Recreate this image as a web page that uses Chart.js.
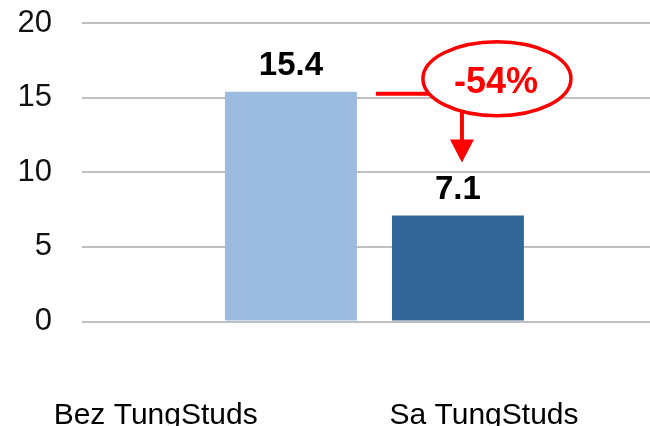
<!DOCTYPE html>
<html>
<head>
<meta charset="utf-8">
<script src="https://cdn.jsdelivr.net/npm/chart.js@4.4.0/dist/chart.umd.min.js"></script>
<style>
  html, body { margin: 0; padding: 0; background: #fff; }
</style>
</head>
<body>
<canvas id="myChart" width="650" height="426"></canvas>
<script>
var categories = ['Bez TungStuds', 'Sa TungStuds'];
var values = [15.4, 7.1];
var barColors = ['#9bbbdf', '#336699'];
var yTicks = [0, 5, 10, 15, 20];
var changeLabel = '-54%';

// where the category names sit on the x scale (they are not under the bars)
var labelPos = [-0.81, 1.156];

var FONT = "'Liberation Sans', Arial, sans-serif";
Chart.defaults.font.family = FONT;

// value labels + the red "-54%" callout
var annotate = {
  id: 'annotate',
  afterDatasetsDraw: function (chart) {
    var c = chart.ctx;
    var bars = chart.getDatasetMeta(0).data;
    var b1 = bars[0], b2 = bars[1];

    c.save();
    c.fillStyle = '#000';
    c.font = 'bold 33px ' + FONT;
    c.textAlign = 'center';
    c.textBaseline = 'alphabetic';
    bars.forEach(function (b, i) {
      c.fillText(values[i].toFixed(1), b.x, b.y - 17);
    });

    var red = '#ff0000';
    var cx = b2.x + 39, cy = b1.y - 13, rx = 74, ry = 37;

    // horizontal line from top of first bar into the ellipse
    var ly = b1.y + 2;
    var dx = rx * Math.sqrt(1 - Math.pow((ly - cy) / ry, 2));
    c.strokeStyle = red;
    c.lineWidth = 4;
    c.beginPath();
    c.moveTo(b1.x + b1.width / 2 + 19, ly);
    c.lineTo(cx - dx + 2, ly);
    c.stroke();

    // ellipse
    c.beginPath();
    c.ellipse(cx, cy, rx, ry, 0, 0, Math.PI * 2);
    c.fillStyle = '#fff';
    c.fill();
    c.lineWidth = 3.5;
    c.stroke();

    c.fillStyle = red;
    c.font = 'bold 36px ' + FONT;
    c.fillText(changeLabel, cx - 1, cy + 14);

    // arrow down to the second bar
    var ax = b2.x + 4;
    var tipY = b2.y - 53;
    var ex = ax - cx;
    var startY = cy + ry * Math.sqrt(1 - Math.pow(ex / rx, 2));
    c.lineWidth = 4;
    c.beginPath();
    c.moveTo(ax, startY);
    c.lineTo(ax, tipY - 22);
    c.stroke();
    c.beginPath();
    c.moveTo(ax - 12, tipY - 23);
    c.lineTo(ax + 12, tipY - 23);
    c.lineTo(ax, tipY);
    c.closePath();
    c.fill();
    c.restore();
  }
};

var ctx = document.getElementById('myChart').getContext('2d');
var myChart = new Chart(ctx, {
  type: 'bar',
  data: {
    datasets: [{
      data: values.map(function (v, i) { return { x: i, y: v }; }),
      backgroundColor: barColors,
      barPercentage: 0.79,
      categoryPercentage: 1
    }]
  },
  options: {
    responsive: false,
    animation: false,
    layout: { padding: { top: 23, right: 0, left: 0, bottom: 0 } },
    plugins: {
      legend: { display: false },
      tooltip: { enabled: false }
    },
    scales: {
      x: {
        type: 'linear',
        offset: false,
        min: -1.251,
        max: 2.15,
        grid: { display: false, offset: false },
        border: { display: false },
        afterBuildTicks: function (s) {
          s.ticks = labelPos.map(function (p) { return { value: p }; });
        },
        afterFit: function (s) {
          s.height = 104.5;
          s.paddingLeft = 0;
          s.paddingRight = 0;
        },
        ticks: {
          autoSkip: false,
          maxRotation: 0,
          padding: 68,
          color: '#000',
          font: { size: 30 },
          callback: function (v, i) { return categories[i]; }
        }
      },
      y: {
        min: 0,
        max: 20,
        afterBuildTicks: function (s) {
          s.ticks = yTicks.map(function (t) { return { value: t }; });
        },
        afterFit: function (s) {
          s.width = 82;
          s.paddingTop = 0;
          s.paddingBottom = 0;
        },
        grid: { color: '#bfbfbf', lineWidth: 2, drawTicks: false },
        border: { display: false },
        ticks: {
          padding: 30,
          color: '#111',
          font: { size: 31 }
        }
      }
    }
  },
  plugins: [annotate]
});
</script>
</body>
</html>
